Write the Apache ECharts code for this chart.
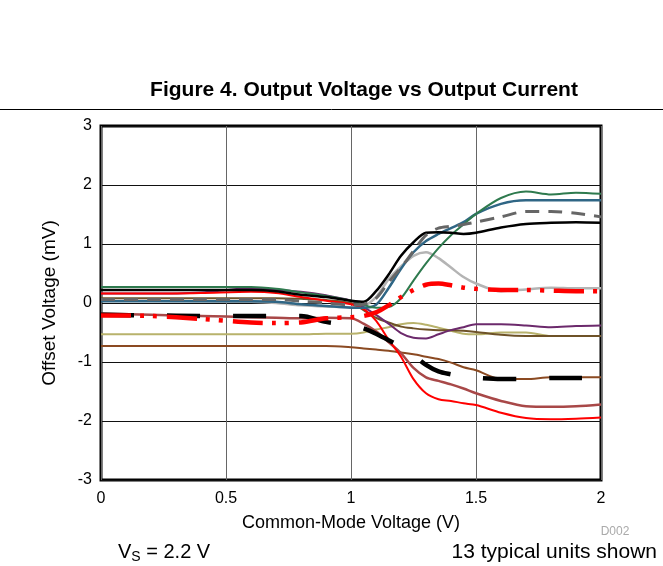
<!DOCTYPE html>
<html>
<head>
<meta charset="utf-8">
<script src="https://cdn.jsdelivr.net/npm/echarts@6/dist/echarts.min.js"></script>
<style>
  html, body { margin: 0; padding: 0; background: #fff; }
  #chart { width: 663px; height: 566px; }
</style>
</head>
<body>
<div id="chart"></div>
<script>
// common-mode voltage (V), shared by every unit
var xs = [0, 0.2, 0.4, 0.6, 0.7, 0.8, 0.9, 1.0, 1.05, 1.1, 1.15, 1.2, 1.25, 1.3, 1.35, 1.4, 1.45, 1.5, 1.6, 1.7, 1.8, 1.9, 2.0];

// offset voltage (mV) per unit
var unitGreen  = [0.27, 0.27, 0.27, 0.27, 0.24, 0.18, 0.12, 0.04, -0.03, -0.08, -0.07, 0.08, 0.38, 0.67, 0.93, 1.15, 1.33, 1.51, 1.78, 1.89, 1.84, 1.87, 1.85];
var unitTeal   = [0.03, 0.03, 0.03, 0.03, 0.02, -0.02, -0.05, -0.08, -0.08, -0.03, 0.25, 0.58, 0.86, 1.05, 1.17, 1.27, 1.37, 1.51, 1.68, 1.74, 1.74, 1.74, 1.74];
var unitGrayDash = [0.06, 0.06, 0.06, 0.06, 0.06, 0.03, 0.0, -0.03, -0.02, 0.08, 0.35, 0.6, 0.88, 1.15, 1.27, 1.3, 1.33, 1.37, 1.46, 1.55, 1.55, 1.52, 1.46];
var unitBlack  = [0.22, 0.22, 0.22, 0.22, 0.2, 0.14, 0.1, 0.04, 0.02, 0.2, 0.48, 0.8, 1.03, 1.19, 1.2, 1.19, 1.17, 1.19, 1.28, 1.34, 1.36, 1.37, 1.36];
var unitLtGray = [0.04, 0.04, 0.03, 0.02, 0.0, -0.04, -0.06, -0.07, -0.05, 0.1, 0.4, 0.62, 0.8, 0.86, 0.76, 0.6, 0.44, 0.33, 0.2, 0.23, 0.26, 0.25, 0.25];
var unitRedDot = [-0.21, -0.22, -0.27, -0.33, -0.34, -0.33, -0.26, -0.24, -0.22, -0.16, -0.04, 0.1, 0.22, 0.31, 0.33, 0.3, 0.26, 0.24, 0.22, 0.22, 0.21, 0.2, 0.2];
var unitBlkDash = [-0.2, -0.21, -0.22, -0.22, -0.22, -0.22, -0.32, -0.38, -0.43, -0.52, -0.63, -0.74, -0.88, -1.05, -1.16, -1.21, -1.25, -1.27, -1.29, -1.29, -1.27, -1.27, -1.27];
var unitBrown  = [-0.73, -0.73, -0.73, -0.73, -0.73, -0.73, -0.73, -0.75, -0.77, -0.79, -0.81, -0.84, -0.87, -0.91, -0.95, -1.01, -1.09, -1.14, -1.29, -1.29, -1.26, -1.26, -1.26];
var unitMaroon = [-0.18, -0.2, -0.22, -0.24, -0.25, -0.26, -0.25, -0.26, -0.35, -0.48, -0.66, -0.85, -1.1, -1.26, -1.32, -1.38, -1.45, -1.53, -1.66, -1.75, -1.76, -1.75, -1.72];
var unitRed    = [0.16, 0.16, 0.17, 0.19, 0.17, 0.1, 0.04, -0.02, -0.1, -0.3, -0.62, -0.91, -1.29, -1.53, -1.63, -1.66, -1.7, -1.73, -1.86, -1.95, -1.97, -1.96, -1.94];
var unitPurple = [0.16, 0.16, 0.18, 0.25, 0.22, 0.19, 0.13, 0.04, -0.07, -0.2, -0.35, -0.51, -0.59, -0.6, -0.53, -0.46, -0.41, -0.36, -0.36, -0.38, -0.41, -0.39, -0.38];
var unitKhaki  = [-0.53, -0.53, -0.53, -0.53, -0.53, -0.53, -0.52, -0.52, -0.5, -0.45, -0.41, -0.36, -0.34, -0.37, -0.42, -0.47, -0.52, -0.53, -0.5, -0.5, -0.56, -0.56, -0.56];
var unitOlive  = [0.08, 0.08, 0.08, 0.08, 0.08, 0.07, 0.05, 0.0, -0.12, -0.25, -0.33, -0.4, -0.43, -0.45, -0.46, -0.46, -0.47, -0.49, -0.54, -0.56, -0.56, -0.56, -0.56];

var xTicks = [0, 0.5, 1, 1.5, 2];
var yTicks = [-3, -2, -1, 0, 1, 2, 3];

function pairs(ys) {
  return xs.map(function (x, i) { return [x, ys[i]]; });
}

function unit(ys, color, width, type) {
  return {
    type: "line",
    data: pairs(ys),
    smooth: 0.3,
    symbol: "none",
    lineStyle: { color: color, width: width, type: type || "solid" },
  };
}

var FONT = "Liberation Sans, Arial, sans-serif";
var chartDom = document.getElementById("chart");
var myChart = echarts.init(chartDom);

var option = {
  animation: false,
  textStyle: { fontFamily: FONT },
  grid: {
    left: 101,
    right: 62,
    top: 126,
    bottom: 86,
    show: true,
    borderColor: "#000",
    borderWidth: 3,
  },
  xAxis: {
    type: "value",
    min: xTicks[0],
    max: xTicks[xTicks.length - 1],
    interval: 0.5,
    name: "Common-Mode Voltage (V)",
    nameLocation: "middle",
    nameGap: 34,
    nameTextStyle: { color: "#000", fontSize: 18 },
    axisLine: { show: false },
    axisTick: { show: false },
    axisLabel: { color: "#000", fontSize: 16, margin: 11 },
    splitLine: { lineStyle: { color: "#666", width: 1 } },
  },
  yAxis: {
    type: "value",
    min: yTicks[0],
    max: yTicks[yTicks.length - 1],
    interval: 1,
    name: "Offset Voltage (mV)",
    nameLocation: "middle",
    nameGap: 42,
    nameTextStyle: { color: "#000", fontSize: 19 },
    axisLine: { show: false },
    axisTick: { show: false },
    axisLabel: { color: "#000", fontSize: 16, margin: 9 },
    splitLine: { lineStyle: { color: "#111", width: 1 } },
  },
  series: [
    unit(unitKhaki, "#b8b26c", 2),
    unit(unitBrown, "#8b4a22", 2),
    unit(unitOlive, "#6e5228", 2),
    unit(unitLtGray, "#b4b4b4", 2.5),
    unit(unitPurple, "#6c2a6c", 2),
    unit(unitMaroon, "#a84848", 2.5),
    unit(unitRed, "#ff0000", 2),
    unit(unitTeal, "#2f6685", 2.5),
    unit(unitGreen, "#2e7a4e", 2),
    unit(unitBlack, "#000000", 2.5),
    unit(unitGrayDash, "#666666", 3, [14, 9]),
    unit(unitBlkDash, "#000000", 4.5, [33, 33]),
    unit(unitRedDot, "#ff0000", 4.5, [30, 9, 4, 9, 4, 10]),
  ],
  graphic: [
    {
      type: "text",
      x: 364,
      y: 90,
      style: {
        text: "Figure 4. Output Voltage vs Output Current",
        fill: "#000",
        font: "bold 21px " + FONT,
        textAlign: "center",
        textVerticalAlign: "middle",
      },
    },
    {
      type: "line",
      shape: { x1: 0, y1: 109.5, x2: 663, y2: 109.5 },
      style: { stroke: "#000", lineWidth: 1 },
    },
    {
      type: "text",
      x: 615,
      y: 532,
      style: {
        text: "D002",
        fill: "#aaaaaa",
        font: "12px " + FONT,
        textAlign: "center",
        textVerticalAlign: "middle",
      },
    },
    {
      type: "text",
      x: 118,
      y: 541,
      style: {
        text: "{v|V}{s|S}{v| = 2.2 V}",
        rich: {
          v: { fontSize: 20, fill: "#000", fontFamily: FONT },
          s: { fontSize: 14, fill: "#000", fontFamily: FONT, padding: [9, 0, 0, 0] },
        },
      },
    },
    {
      type: "text",
      x: 657,
      y: 552,
      style: {
        text: "13 typical units shown",
        fill: "#000",
        font: "21px " + FONT,
        textAlign: "right",
        textVerticalAlign: "middle",
      },
    },
  ],
};

option && myChart.setOption(option);
</script>
</body>
</html>
